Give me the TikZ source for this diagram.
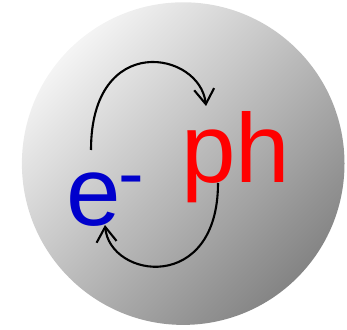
\documentclass[tikz,border=0pt]{standalone}
\usepackage{fontspec}
\usepackage{xcolor}
\usepackage{tikz}
\usetikzlibrary{arrows.meta}
\setmainfont{Liberation Sans}
\definecolor{elecblue}{HTML}{0000CC}
\definecolor{phonred}{HTML}{FF0000}
\definecolor{ballhi}{HTML}{F4F4F4}
\definecolor{balllo}{HTML}{848484}

\begin{document}
\begin{tikzpicture}[x=1pt, y=1pt,
        hop/.style={black, line width=2.1pt, -{Straight Barb[length=15pt, width=20pt]}},
        big/.style={inner sep=0pt, anchor=base west, font=\fontsize{98}{98}\selectfont}]
            \useasboundingbox (0,0) rectangle (347,329);
            \shade[top color=ballhi, bottom color=balllo, shading angle=45] (183.2,165.4) circle (161.3pt);
            \node[big, elecblue] (elec) at (66.1,103.8) {e\kern-2.3pt\raisebox{25.5pt}{\fontsize{77}{77}\selectfont -}};
            \node[big, phonred] (phon) at (180.8,146.3) {ph};
            % top hop: e- to ph
            \draw[hop] ([shift={(24.9,75.2)}]elec.base west) .. controls +(0,119) and ([shift={(19.2,131.7)}]phon.base west) .. ([shift={(25.2,76.7)}]phon.base west);
            % bottom hop: ph back to e-
            \draw[hop] ([shift={(37.2,-0.3)}]phon.base west) .. controls +(0,-111) and ([shift={(43.9,-53.8)}]elec.base west) .. ([shift={(38.9,0.2)}]elec.base west);
        \end{tikzpicture}
\end{document}
